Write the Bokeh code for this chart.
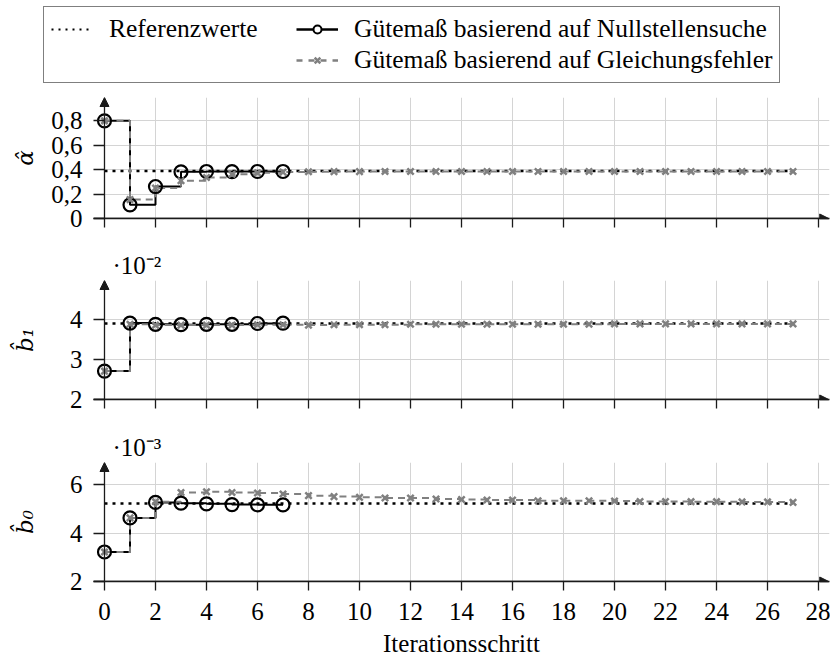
from bokeh.plotting import figure
from bokeh.layouts import column
from bokeh.models import (Range1d, FixedTicker, Arrow, NormalHead, Title,
                          Legend, LegendItem)
from bokeh.embed import file_html
from bokeh.resources import INLINE

# ---------------- data ----------------
iter_null = [0, 1, 2, 3, 4, 5, 6, 7]
iter_gleich = [0, 1, 2, 3, 4, 5, 6, 7, 8, 9, 10, 11, 12, 13, 14, 15, 16, 17,
               18, 19, 20, 21, 22, 23, 24, 25, 26, 27]
ref_x = [0, 27]

alpha_null = [0.80, 0.112, 0.262, 0.382, 0.385, 0.384, 0.385, 0.385]
alpha_gleich = [0.80, 0.155, 0.250, 0.309, 0.336, 0.362, 0.374, 0.380, 0.383,
                0.384, 0.384, 0.385, 0.385, 0.385, 0.385, 0.385, 0.385, 0.385,
                0.385, 0.385, 0.385, 0.385, 0.385, 0.385, 0.385, 0.385, 0.385,
                0.385]
alpha_ref = 0.39

# b1 in units of 1e-2
b1_null = [2.71, 3.91, 3.88, 3.87, 3.88, 3.88, 3.90, 3.91]
b1_gleich = [2.71, 3.88, 3.86, 3.86, 3.86, 3.86, 3.87, 3.87, 3.86, 3.87,
             3.87, 3.87, 3.88, 3.88, 3.88, 3.88, 3.88, 3.88, 3.88, 3.88,
             3.89, 3.89, 3.89, 3.89, 3.89, 3.89, 3.89, 3.89]
b1_ref = 3.90

# b0 in units of 1e-3
b0_null = [3.22, 4.63, 5.27, 5.24, 5.21, 5.18, 5.17, 5.17]
b0_gleich = [3.22, 4.63, 5.30, 5.68, 5.71, 5.68, 5.66, 5.62, 5.55, 5.51,
             5.48, 5.45, 5.45, 5.41, 5.39, 5.37, 5.37, 5.34, 5.34, 5.34,
             5.33, 5.31, 5.31, 5.30, 5.30, 5.29, 5.29, 5.27]
b0_ref = 5.23

x_ticks = [0, 2, 4, 6, 8, 10, 12, 14, 16, 18, 20, 22, 24, 26, 28]
alpha_ticks = [0, 0.2, 0.4, 0.6, 0.8]
alpha_tick_labels = ["0", "0,2", "0,4", "0,6", "0,8"]
b1_ticks = [2, 3, 4]
b1_tick_labels = ["2", "3", "4"]
b0_ticks = [2, 4, 6]
b0_tick_labels = ["2", "4", "6"]

legend_labels = ["Referenzwerte", "Gütemaß basierend auf Nullstellensuche",
                 "Gütemaß basierend auf Gleichungsfehler"]

# ---------------- styles ----------------
FONT = "Liberation Serif"
MATHFONT = "DejaVu Serif"
AX = "#1a1a1a"
GRID = "#d4d4d4"
GRAY = "#808080"
REF_DASH = "3 5"
GL_DASH = "7 5"
X_START, X_END = -0.431, 28.43
FRAME_W = 736
BORDER_L = 93
TOTAL_W = BORDER_L + FRAME_W + 1
LEG_H = 86


def make_panel(y_range, ticks, tick_labels, ylabel, ref_val, null_vals,
               gleich_vals, show_x, exponent, min_top, min_bottom, frame_h,
               lab_standoff):
    p = figure(frame_width=FRAME_W, frame_height=frame_h,
               x_range=Range1d(X_START, X_END),
               y_range=Range1d(*y_range),
               output_backend="svg", toolbar_location=None,
               min_border_left=BORDER_L, min_border_right=1,
               min_border_top=min_top, min_border_bottom=min_bottom,
               outline_line_color=None)
    # x axis
    xa = p.xaxis[0]
    xa.ticker = FixedTicker(ticks=x_ticks)
    xa.major_tick_out = 9
    xa.major_tick_in = 0
    xa.minor_tick_line_color = None
    xa.axis_line_color = AX
    xa.axis_line_width = 1.3
    xa.major_tick_line_color = AX
    xa.major_tick_line_width = 1.3
    xa.major_label_text_font = FONT
    xa.major_label_text_font_size = "25px"
    xa.major_label_text_color = "black" if show_x else None
    xa.major_label_standoff = 12
    if show_x:
        xa.axis_label = "Iterationsschritt"
        xa.axis_label_text_font = FONT
        xa.axis_label_text_font_size = "25px"
        xa.axis_label_text_font_style = "normal"
        xa.axis_label_text_color = "black"
        xa.axis_label_standoff = 7
    # y axis
    ya = p.yaxis[0]
    ya.ticker = FixedTicker(ticks=ticks)
    ya.major_label_overrides = dict(zip(ticks, tick_labels))
    ya.major_tick_in = 11
    ya.major_tick_out = 0
    ya.minor_tick_line_color = None
    ya.axis_line_color = None
    ya.major_tick_line_color = AX
    ya.major_tick_line_width = 1.3
    ya.major_label_text_font = FONT
    ya.major_label_text_font_size = "25px"
    ya.major_label_text_color = "black"
    ya.major_label_standoff = 11
    ya.axis_label = ylabel
    ya.axis_label_text_font = MATHFONT
    ya.axis_label_text_font_size = "23px"
    ya.axis_label_text_font_style = "italic"
    ya.axis_label_text_color = "black"
    ya.axis_label_standoff = lab_standoff
    # grid
    p.xgrid.ticker = FixedTicker(ticks=x_ticks)
    p.ygrid.ticker = FixedTicker(ticks=ticks)
    p.grid.grid_line_color = GRID
    p.grid.grid_line_width = 1

    # data
    p.line(x=ref_x, y=[ref_val, ref_val], line_color="black",
           line_width=2.5, line_dash=REF_DASH)
    p.step(x=iter_null, y=null_vals, mode="after", line_color="black",
           line_width=2)
    p.step(x=iter_gleich, y=gleich_vals, mode="after", line_color=GRAY,
           line_width=2, line_dash=GL_DASH)
    p.scatter(x=iter_null, y=null_vals, marker="circle", size=13,
              line_color="black", line_width=2.2, fill_color=None)
    p.scatter(x=iter_gleich, y=gleich_vals, marker="x", size=9,
              line_color=GRAY, line_width=2.5)

    # axis arrows
    p.add_layout(Arrow(end=NormalHead(size=9, fill_color=AX, line_color=AX),
                       x_start=0, y_start=y_range[0], x_end=0,
                       y_end=y_range[1], line_color=AX, line_width=1.3))
    p.add_layout(Arrow(end=NormalHead(size=9, fill_color=AX, line_color=AX),
                       x_start=X_START, y_start=y_range[0], x_end=X_END - 0.03,
                       y_end=y_range[0], line_color=AX, line_width=1.3))
    if exponent:
        p.add_layout(Title(text=exponent, align="left", offset=19,
                           text_font=FONT, text_font_size="25px",
                           text_font_style="normal", text_color="black",
                           standoff=3), "above")
    return p


p1 = make_panel((0, 0.991), alpha_ticks, alpha_tick_labels, "α̂",
                alpha_ref, alpha_null, alpha_gleich, False, None,
                97 - LEG_H, 20, 121, 10)
p2 = make_panel((2, 4.975), b1_ticks, b1_tick_labels, "b̂₁", b1_ref,
                b1_null, b1_gleich, False, "·10⁻²", 42, 20, 119, 29)
p3 = make_panel((2, 6.92), b0_ticks, b0_tick_labels, "b̂₀", b0_ref,
                b0_null, b0_gleich, True, "·10⁻³", 43, 72, 119, 29)

# ---------------- legend figure ----------------
lf = figure(frame_width=TOTAL_W, frame_height=LEG_H, x_range=Range1d(0, 1),
            y_range=Range1d(0, 1), output_backend="svg", toolbar_location=None,
            min_border_left=0, min_border_right=0, min_border_top=0,
            min_border_bottom=0, outline_line_color=None,
            x_axis_type=None, y_axis_type=None)
lf.grid.visible = False
off = [5, 6]  # sample glyphs only; kept outside the visible range
r_ref = lf.line(x=off, y=off, line_color="black", line_width=2,
                line_dash="2 5")
r_nl = lf.line(x=off, y=off, line_color="black", line_width=2.5)
r_nm = lf.scatter(x=off, y=off, marker="circle", size=9, line_color="black",
                  line_width=2, fill_color="white")
r_blank = lf.line(x=off, y=off, line_alpha=0)
r_gl = lf.line(x=off, y=off, line_color=GRAY, line_width=2.5, line_dash="6 6")
r_gm = lf.scatter(x=off, y=off, marker="x", size=7, line_color=GRAY,
                  line_width=2.5)
legend = Legend(items=[
    LegendItem(label=legend_labels[0], renderers=[r_ref]),
    LegendItem(label=legend_labels[1], renderers=[r_nl, r_nm]),
    LegendItem(label=" ", renderers=[r_blank]),
    LegendItem(label=legend_labels[2], renderers=[r_gl, r_gm]),
], location=(43, 3), orientation="horizontal", ncols=2,
    margin=0, padding=7, spacing=1, glyph_width=42, glyph_height=20,
    label_standoff=16, label_width=186, label_text_font=FONT,
    label_text_font_size="25.5px", label_text_color="black",
    border_line_color="black", border_line_width=1,
    background_fill_color="white", background_fill_alpha=1)
lf.add_layout(legend)

layout = column(lf, p1, p2, p3, spacing=0)
open("out.html", "w").write(file_html(layout, INLINE))
